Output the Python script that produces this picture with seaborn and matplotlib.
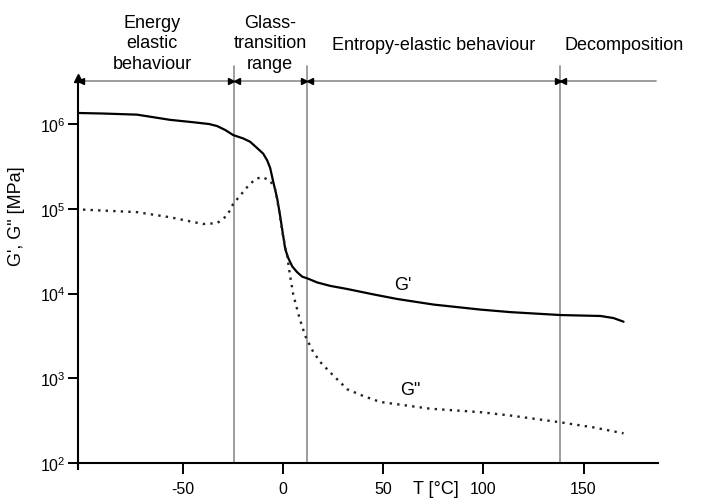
import numpy as np
import pandas as pd
import matplotlib
matplotlib.use("Agg")
import matplotlib.pyplot as plt
import seaborn as sns
from matplotlib.ticker import NullLocator

# ---------------- data ----------------
T_storage = [-102.5, -90, -73, -56.5, -45, -37, -33, -29, -25, -20, -16.5, -12.5, -10, -8, -6.5,
             -5, -3, -1.5, 1, 2.5, 4.5, 7, 9.5, 12, 17, 23.5, 32, 45, 57, 75, 98.5, 113.5,
             138.5, 158.5, 165, 170]
G_storage = [1.35e6, 1.33e6, 1.29e6, 1.12e6, 1.05e6, 1.0e6, 9.46e5, 8.51e5, 7.41e5, 6.76e5,
             6.17e5, 5.07e5, 4.47e5, 3.72e5, 3.02e5, 2.09e5, 1.32e5, 8.13e4, 3.35e4, 2.63e4,
             2.09e4, 1.78e4, 1.58e4, 1.51e4, 1.35e4, 1.23e4, 1.13e4, 9.77e3, 8.61e3, 7.41e3,
             6.46e3, 6.03e3, 5.57e3, 5.43e3, 5.13e3, 4.65e3]

T_loss = [-100, -73, -56.5, -40, -33, -28, -25, -21, -18, -14, -10.5, -6.5, -4, -2, -0.5, 2,
          3.5, 5, 8, 11, 15, 19, 23.5, 32, 40, 48.5, 73.5, 98.5, 113.5, 138.5, 155, 170]
G_loss = [9.77e4, 9.12e4, 7.94e4, 6.61e4, 6.76e4, 8.32e4, 1.14e5, 1.48e5, 1.80e5, 2.24e5,
          2.37e5, 2.14e5, 1.70e5, 9.33e4, 5.37e4, 2.75e4, 1.58e4, 9.77e3, 5.25e3, 3.16e3,
          2.04e3, 1.51e3, 1.17e3, 741, 617, 525, 437, 398, 363, 302, 263, 224]

region_bounds = [-24.5, 12, 138.5]
region_labels = ["Energy\nelastic\nbehaviour", "Glass-\ntransition\nrange",
                 "Entropy-elastic behaviour", "Decomposition"]
region_label_x = [-65.5, -6.5, 75, 170.5]

x_ticks = [-50, 0, 50, 100, 150]
y_ticks = [1e2, 1e3, 1e4, 1e5, 1e6]

# ---------------- style ----------------
sns.set_style("ticks")
plt.rcParams["font.family"] = ["Liberation Sans", "DejaVu Sans"]
plt.rcParams["mathtext.fontset"] = "custom"
plt.rcParams["mathtext.rm"] = "Liberation Sans"
plt.rcParams["mathtext.it"] = "Liberation Sans:italic"
plt.rcParams["mathtext.bf"] = "Liberation Sans:bold"
plt.rcParams["text.color"] = "black"
plt.rcParams["axes.labelcolor"] = "black"
plt.rcParams["xtick.color"] = "black"
plt.rcParams["ytick.color"] = "black"
plt.rcParams["axes.edgecolor"] = "black"

fig = plt.figure(figsize=(7.02, 5.02), dpi=100)
ax = fig.add_axes([78 / 702, 1 - 464 / 502, 579.6 / 702, 398.3 / 502])

df_s = pd.DataFrame({"T": T_storage, "G": G_storage})
df_l = pd.DataFrame({"T": T_loss, "G": G_loss})

sns.lineplot(data=df_s, x="T", y="G", ax=ax, color="black", lw=1.6,
             estimator=None, sort=False)
sns.lineplot(data=df_l, x="T", y="G", ax=ax, color="#222222", lw=1.7,
             estimator=None, sort=False, linestyle=(0, (1, 2.2)))

ax.set_yscale("log")
ax.set_xlim(-102.5, 187)
ax.set_ylim(1e2, 10 ** 6.70)
ax.set_xticks(x_ticks)
ax.set_xticklabels([str(v) for v in x_ticks])
ax.set_yticks(y_ticks)
ax.yaxis.set_minor_locator(NullLocator())

ax.tick_params(axis="x", direction="out", length=8, width=1.4, pad=5, labelsize=11.5)
ax.tick_params(axis="y", direction="out", length=7, width=1.4, pad=2, labelsize=11.5)

for s in ["top", "right"]:
    ax.spines[s].set_visible(False)
ax.spines["left"].set_linewidth(1.5)
ax.spines["bottom"].set_linewidth(1.5)
ax.spines["left"].set_bounds(10 ** 1.93, 10 ** 6.53)

ax.set_xlabel("")
ax.set_ylabel('G\', G" [MPa]', fontsize=13)
ax.yaxis.set_label_coords(-0.0914, 0.623)

# arrow on y axis
ax.plot([-102.5], [10 ** 6.545], marker="^", color="black", markersize=6, clip_on=False)

# region separators
gray = "#8c8c8c"
top_y = 10 ** 6.507
for xb in region_bounds:
    ax.plot([xb, xb], [1e2, 10 ** 6.684], color=gray, lw=1.2, clip_on=False, zorder=1)
    ax.plot([xb - 1.4], [top_y], marker=">", color="black", markersize=4.5, clip_on=False)
    ax.plot([xb + 1.4], [top_y], marker="<", color="black", markersize=4.5, clip_on=False)
ax.plot([-102.5, 186], [top_y, top_y], color=gray, lw=1.2, clip_on=False, zorder=1)
ax.plot([-100.8], [top_y], marker="<", color="black", markersize=4.5, clip_on=False)

trans = matplotlib.transforms.blended_transform_factory(ax.transData, ax.transAxes)
for lbl, lx in zip(region_labels, region_label_x):
    ly = (464 - 44) / 398.3 if "\n" in lbl else (464 - 46) / 398.3
    ax.text(lx, ly, lbl, transform=trans, ha="center", va="center", fontsize=13,
            linespacing=1.25, clip_on=False, color="black")

# curve labels
ax.text(59.5, 10 ** 4.11, "G'", fontsize=13, ha="center", va="center", color="black")
ax.text(63.5, 10 ** 2.87, 'G"', fontsize=13, ha="center", va="center", color="black")

# x axis label placed between tick labels
ax.text(76.5, -(490 - 464) / 398.3, "T [°C]", transform=trans, fontsize=13,
        ha="center", va="center", clip_on=False, color="black")

fig.savefig("out.png", dpi=100)
